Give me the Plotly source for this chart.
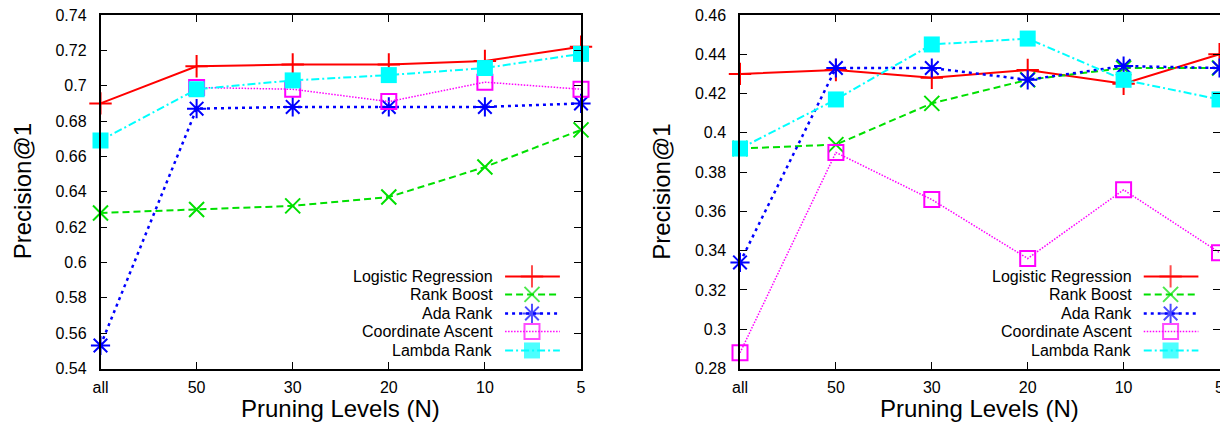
import plotly.graph_objects as go

# ---------------- data ----------------
categories = ["all", "50", "30", "20", "10", "5"]
series_names = ["Logistic Regression", "Rank Boost", "Ada Rank", "Coordinate Ascent", "Lambda Rank"]

left_lr = [0.690, 0.711, 0.712, 0.712, 0.714, 0.722]
left_rb = [0.628, 0.630, 0.632, 0.637, 0.654, 0.675]
left_ada = [0.553, 0.687, 0.688, 0.688, 0.688, 0.690]
left_ca = [None, 0.699, 0.698, 0.691, 0.702, 0.698]
left_lam = [0.669, 0.698, 0.703, 0.706, 0.710, 0.718]

right_lr = [0.430, 0.432, 0.428, 0.432, 0.425, 0.440]
right_rb = [0.392, 0.394, 0.415, 0.427, 0.433, 0.433]
right_ada = [0.334, 0.433, 0.433, 0.427, 0.434, 0.433]
right_ca = [0.288, 0.390, 0.366, 0.336, 0.371, 0.339]
right_lam = [0.392, 0.417, 0.445, 0.448, 0.427, 0.417]

left_yticks = [0.54, 0.56, 0.58, 0.60, 0.62, 0.64, 0.66, 0.68, 0.70, 0.72, 0.74]
left_yticklabels = ["0.54", "0.56", "0.58", "0.6", "0.62", "0.64", "0.66", "0.68", "0.7", "0.72", "0.74"]
right_yticks = [0.28, 0.30, 0.32, 0.34, 0.36, 0.38, 0.40, 0.42, 0.44, 0.46]
right_yticklabels = ["0.28", "0.3", "0.32", "0.34", "0.36", "0.38", "0.4", "0.42", "0.44", "0.46"]

x_title = "Pruning Levels (N)"
y_title = "Precision@1"

# ---------------- styles ----------------
styles = [
    dict(color="#ff0000", dash="solid", width=2, symbol="cross-thin-open", size=16, mlw=2),
    dict(color="#00e000", dash="7px,4px", width=2, symbol="x-thin-open", size=15, mlw=2),
    dict(color="#0000ff", dash="3px,4px", width=2.5, symbol="asterisk-open", size=16, mlw=2),
    dict(color="#ff00ff", dash="1.5px,1.5px", width=1.5, symbol="square-open", size=15, mlw=2),
    dict(color="#00ffff", dash="8px,3px,2px,3px", width=2, symbol="square", size=16, mlw=0),
]

W, H = 1220, 424
FONT = "Liberation Sans, Arial, Helvetica, sans-serif"

fig = go.Figure()

panels = [
    dict(xa="x", ya="y", xa_h="x3", ya_h="y3",
         data=[left_lr, left_rb, left_ada, left_ca, left_lam],
         yr=[0.54, 0.74], tv=left_yticks, tt=left_yticklabels,
         x0=100.5, x1=581),
    dict(xa="x2", ya="y2", xa_h="x4", ya_h="y4",
         data=[right_lr, right_rb, right_ada, right_ca, right_lam],
         yr=[0.28, 0.46], tv=right_yticks, tt=right_yticklabels,
         x0=740, x1=1219.5),
]

top_px, bot_px = 15, 368.5
ydom = [1 - bot_px / H, 1 - top_px / H]

for p in panels:
    for name, vals, st in zip(series_names, p["data"], styles):
        fig.add_trace(go.Scatter(
            x=categories, y=vals, mode="lines+markers", name=name,
            xaxis=p["xa"], yaxis=p["ya"], showlegend=False, cliponaxis=False,
            line=dict(color=st["color"], dash=st["dash"], width=st["width"]),
            marker=dict(symbol=st["symbol"], size=st["size"], color=st["color"],
                        line=dict(color=st["color"], width=st["mlw"])),
            connectgaps=False,
        ))
    # custom gnuplot-style legend (text right, sample on right)
    row_y = [0.2606, 0.2096, 0.1558, 0.1048, 0.051]
    for name, st, ry in zip(series_names, styles, row_y):
        fig.add_trace(go.Scatter(
            x=[0.842, 0.898, 0.956], y=[ry, ry, ry], mode="lines+markers",
            xaxis=p["xa_h"], yaxis=p["ya_h"], showlegend=False, cliponaxis=False,
            hoverinfo="skip",
            line=dict(color=st["color"], dash=st["dash"], width=st["width"]),
            marker=dict(symbol=st["symbol"], size=[0, st["size"], 0], color=st["color"],
                        line=dict(color=st["color"], width=st["mlw"])),
        ))
        fig.add_annotation(
            text=name, xref=p["xa"] + " domain", yref=p["ya"] + " domain",
            x=0.822, y=ry, xanchor="right", yanchor="middle", showarrow=False,
            font=dict(family=FONT, size=16, color="black"),
        )
    # axis titles
    fig.add_annotation(
        text=x_title, xref="paper", yref="paper",
        x=((p["x0"] + p["x1"]) / 2) / W, y=1 - 408 / H,
        xanchor="center", yanchor="middle", showarrow=False,
        font=dict(family=FONT, size=24, color="black"),
    )
    fig.add_annotation(
        text=y_title, xref="paper", yref="paper",
        x=(p["x0"] - 78) / W, y=1 - ((top_px + bot_px) / 2) / H, textangle=-90,
        xanchor="center", yanchor="middle", showarrow=False,
        font=dict(family=FONT, size=24, color="black"),
    )

axis_common = dict(
    showline=True, linecolor="black", linewidth=1.5, mirror="allticks",
    ticks="inside", ticklen=7, tickwidth=1.2, tickcolor="black",
    showgrid=False, zeroline=False, automargin=False,
    tickfont=dict(family=FONT, size=16, color="black"),
)

layout_axes = {}
for i, p in enumerate(panels):
    xk = "xaxis" if i == 0 else "xaxis2"
    yk = "yaxis" if i == 0 else "yaxis2"
    dom = [p["x0"] / W, p["x1"] / W]
    layout_axes[xk] = dict(axis_common, domain=dom, type="category",
                           categoryorder="array", categoryarray=categories,
                           range=[0, len(categories) - 1], anchor=p["ya"],
                           ticklabelstandoff=4)
    layout_axes[yk] = dict(axis_common, domain=ydom, range=p["yr"],
                           tickvals=p["tv"], ticktext=p["tt"], anchor=p["xa"],
                           ticklabelstandoff=9)
    hx = "xaxis3" if i == 0 else "xaxis4"
    hy = "yaxis3" if i == 0 else "yaxis4"
    layout_axes[hx] = dict(overlaying=p["xa"], range=[0, 1], visible=False,
                           anchor=p["ya_h"], fixedrange=True)
    layout_axes[hy] = dict(overlaying=p["ya"], range=[0, 1], visible=False,
                           anchor=p["xa_h"], fixedrange=True)

fig.update_layout(
    width=W, height=H,
    margin=dict(l=0, r=0, t=0, b=0, pad=0, autoexpand=False),
    paper_bgcolor="white", plot_bgcolor="white",
    showlegend=False,
    **layout_axes,
)

fig.write_html(
    "out.html",
    config={"displayModeBar": False},
    post_script="document.body.style.margin='0';document.body.style.overflow='hidden';",
)
